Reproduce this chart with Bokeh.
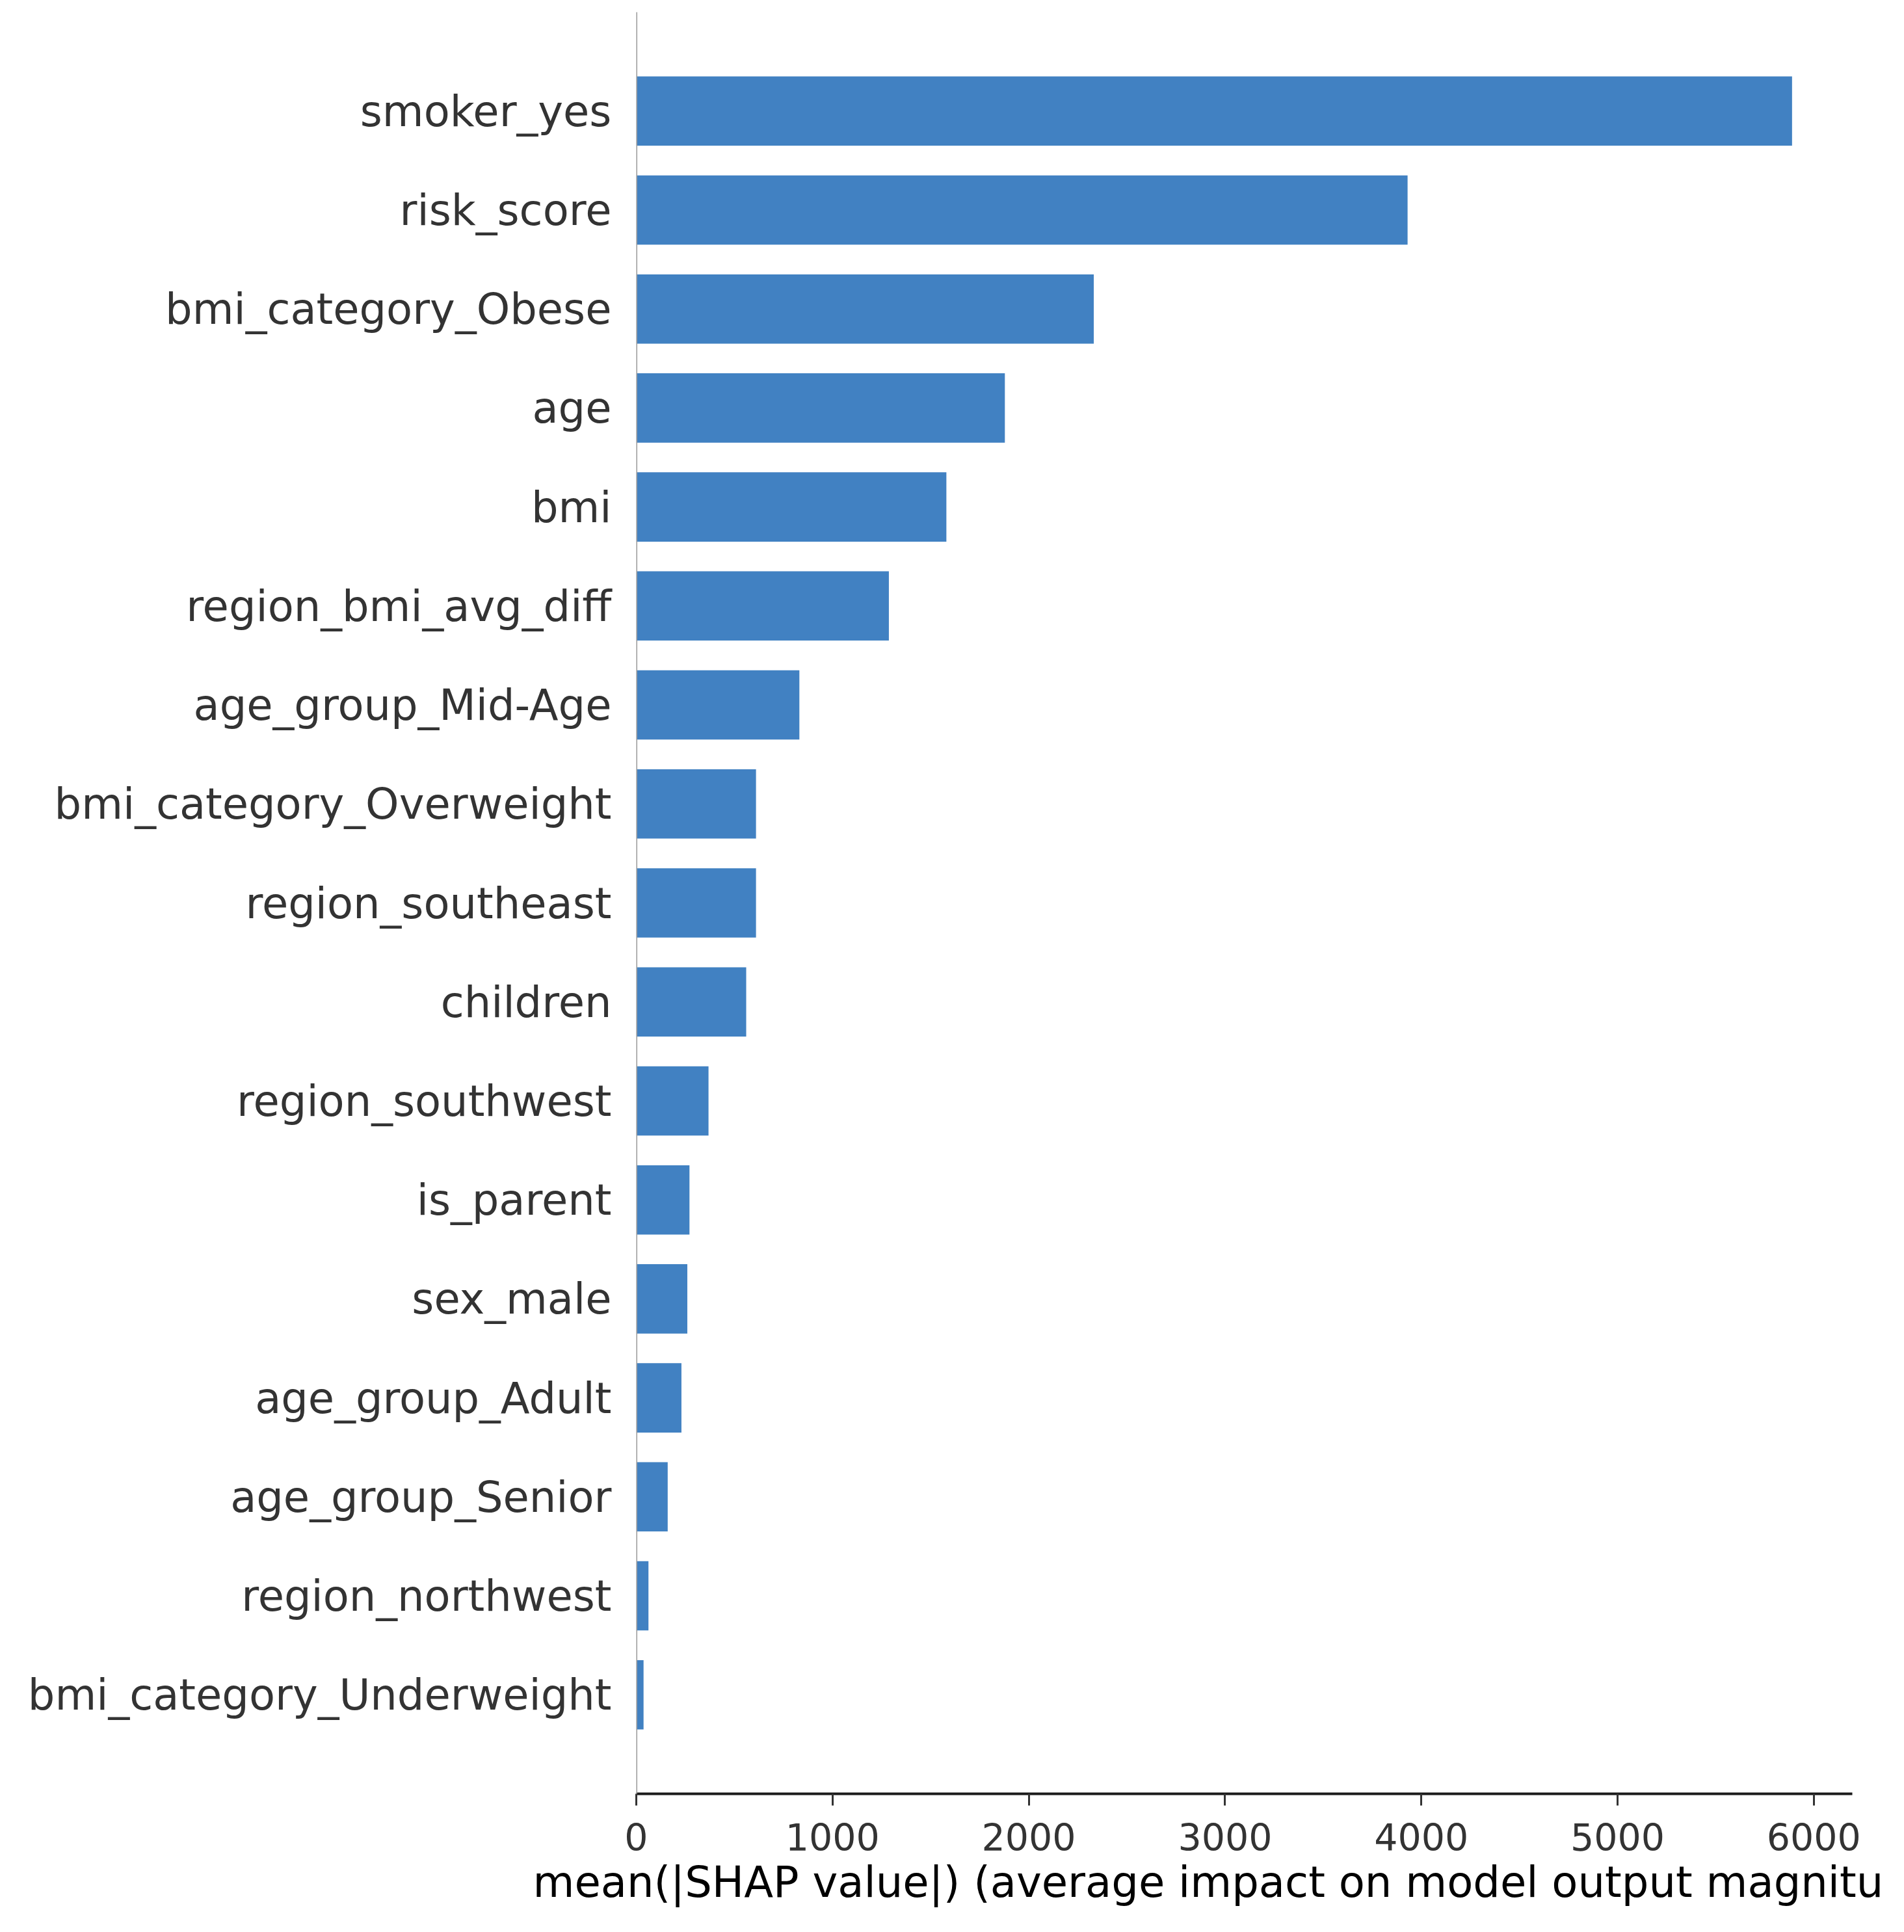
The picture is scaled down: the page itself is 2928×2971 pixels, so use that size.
from bokeh.plotting import figure
from bokeh.models import Range1d, FixedTicker, Span, Title
from bokeh.embed import file_html
from bokeh.resources import INLINE

# ---- data (top to bottom as shown) ----
features = [
    "smoker_yes",
    "risk_score",
    "bmi_category_Obese",
    "age",
    "bmi",
    "region_bmi_avg_diff",
    "age_group_Mid-Age",
    "bmi_category_Overweight",
    "region_southeast",
    "children",
    "region_southwest",
    "is_parent",
    "sex_male",
    "age_group_Adult",
    "age_group_Senior",
    "region_northwest",
    "bmi_category_Underweight",
]
mean_abs_shap = [5889, 3930, 2331, 1878, 1580, 1287, 831, 610, 610, 560,
                 368, 271, 260, 230, 160, 62, 37]
x_ticks = [0, 1000, 2000, 3000, 4000, 5000, 6000]
x_label_text = "mean(|SHAP value|) (average impact on model output magnitu"

n = len(features)
ypos = [n - 1 - i for i in range(n)]

FONT = "DejaVu Sans"

p = figure(
    width=2912, height=2955,
    x_range=Range1d(0, 6196), y_range=Range1d(-1, n),
    output_backend="svg", toolbar_location=None,
    min_border_left=978, min_border_right=64,
    min_border_top=18, min_border_bottom=197,
)
p.outline_line_color = None
p.xgrid.visible = False
p.ygrid.visible = False
p.background_fill_color = "white"
p.border_fill_color = "white"

p.hbar(y=ypos, left=0, right=mean_abs_shap, height=0.7,
       fill_color="#4181c2", line_color=None)

p.add_layout(Span(location=0, dimension="height", line_color="#999999",
                  line_width=3))

# x axis
xa = p.xaxis[0]
xa.ticker = FixedTicker(ticks=x_ticks)
xa.axis_line_color = "#1a1a1a"
xa.axis_line_width = 4
xa.major_tick_line_color = "#333333"
xa.major_tick_line_width = 3
xa.major_tick_out = 18
xa.major_tick_in = 0
xa.minor_tick_line_color = None
xa.major_label_text_font = FONT
xa.major_label_text_font_size = "57px"
xa.major_label_text_color = "#333333"
xa.major_label_standoff = 27

# y axis
ya = p.yaxis[0]
ya.ticker = FixedTicker(ticks=ypos)
ya.major_label_overrides = {y: f for y, f in zip(ypos, features)}
ya.axis_line_color = None
ya.major_tick_line_color = None
ya.minor_tick_line_color = None
ya.major_tick_out = 0
ya.major_tick_in = 0
ya.major_label_standoff = 38
ya.major_label_text_font = FONT
ya.major_label_text_font_size = "65.5px"
ya.major_label_text_color = "#333333"

# x-axis label (as drawn: clipped at the right edge)
p.add_layout(Title(text=x_label_text, align="left", offset=-159,
                   text_font=FONT, text_font_size="65.6px",
                   text_font_style="normal", text_color="black",
                   standoff=11), "below")

open("out.html", "w").write(file_html(p, INLINE))
